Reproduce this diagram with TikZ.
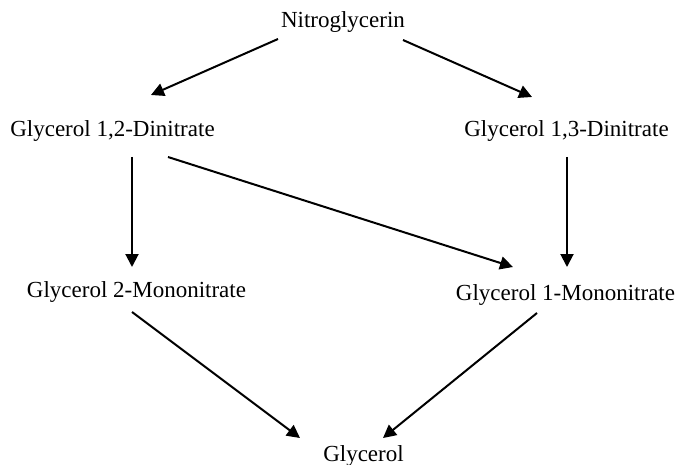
\documentclass[tikz,border=0pt]{standalone}
\usepackage{fontspec}
\setmainfont{Liberation Serif}
\usetikzlibrary{arrows.meta,calc}
\tikzset{
  lbl/.style={anchor=base,inner sep=0pt,font=\fontsize{23}{27}\selectfont},
  conn/.style={line width=2pt,-{Triangle[length=13pt,width=13pt]}}
}
\begin{document}
\begin{tikzpicture}[x=1pt,y=-1pt]
\useasboundingbox[fill=white] (0,0) rectangle (677,465);
\node[lbl] (nitro) at (343,28) {Nitroglycerin};
\node[lbl] (din12) at (112.5,137) {Glycerol 1,2-Dinitrate};
\node[lbl] (din13) at (566.5,137) {Glycerol 1,3-Dinitrate};
\node[lbl] (mono2) at (136.5,297) {Glycerol 2-Mononitrate};
\node[lbl] (mono1) at (565.5,300) {Glycerol 1-Mononitrate};
\node[lbl] (gly) at (363.5,461) {Glycerol};
\draw[conn] ($(nitro.base)+(-65,11)$) -- ($(din12.base)+(38.5,-42)$);
\draw[conn] ($(nitro.base)+(60,12)$) -- ($(din13.base)+(-34.5,-40)$);
\draw[conn] ($(din12.base)+(19.5,20)$) -- ($(mono2.base)+(-4.5,-30)$);
\draw[conn] ($(din12.base)+(55.5,20)$) -- ($(mono1.base)+(-52.5,-33)$);
\draw[conn] ($(din13.base)+(0.5,20)$) -- ($(mono1.base)+(1.5,-33)$);
\draw[conn] ($(mono2.base)+(-4.5,15)$) -- ($(gly.base)+(-63.5,-23)$);
\draw[conn] ($(mono1.base)+(-28.5,13)$) -- ($(gly.base)+(19.5,-23)$);
\end{tikzpicture}
\end{document}
